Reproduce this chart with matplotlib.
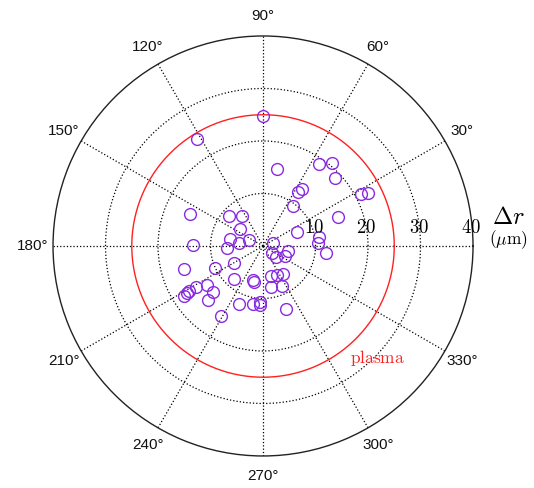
import numpy as np
import matplotlib.pyplot as plt
from matplotlib.transforms import offset_copy

plt.rcParams["mathtext.fontset"] = "cm"

# displacement of each emitter: angle (deg) and radius (um)
theta_deg = [90.1, 121.8, 79.5, 55.8, 50.3, 43.2, 55.8, 57.1, 53.1, 27.9,
             26.8, 21.4, 23.0, 156.3, 178.9, 138.3, 125.4, 144.0, 168.8, 183.7,
             172.1, 156.3, 14.7, -40.0, -41.0, -11.3, -25.5, 2.8, -6.6, 9.4,
             196.2, 204.9, 210.8, 228.7, 254.3, 256.4, -75.6, -64.1, -54.1, -79.3,
             -64.8, 212.3, 211.8, 211.7, 211.6, 214.7, 222.3, 224.6, 239.2, 247.8,
             259.7, 266.9, 267.4, -69.8]
r_um = [24.8, 24.0, 15.0, 18.9, 20.5, 18.8, 13.1, 12.2, 9.6, 21.1,
        22.5, 15.3, 7.0, 15.2, 13.4, 8.6, 7.0, 5.4, 6.5, 6.8,
        4.6, 2.9, 2.0, 2.2, 3.3, 4.9, 4.6, 10.5, 12.1, 10.8,
        15.7, 10.1, 6.4, 8.4, 6.8, 7.1, 5.9, 6.2, 6.6, 7.9,
        8.4, 17.8, 17.0, 16.5, 15.0, 13.0, 12.9, 14.6, 15.5, 11.9,
        11.2, 10.6, 11.2, 12.7]

plasma_r = 25.0
r_max = 40
r_ticks = [10, 20, 30, 40]
theta_ticks = list(range(0, 360, 30))
theta_labels = ["", "30°", "60°", "90°", "120°", "150°", "180°",
                "210°", "240°", "270°", "300°", "330°"]

fig = plt.figure(figsize=(5.34, 4.88), dpi=100)
ax = fig.add_axes([0.0993, 0.0656, 0.7865, 0.8607], projection="polar")

ax.set_ylim(0, r_max)
ax.set_yticks(r_ticks[:-1])
ax.set_yticklabels([])
ax.set_xticks(np.deg2rad(theta_ticks))
ax.set_xticklabels([])
ax.grid(True, color="black", linestyle=":", linewidth=0.9)
ax.spines["polar"].set_color("#222222")
ax.spines["polar"].set_linewidth(1.0)

# plasma boundary
tt = np.linspace(0, 2 * np.pi, 400)
ax.plot(tt, np.full_like(tt, plasma_r), color="#ff2020", lw=1.0)

ax.plot(np.deg2rad(theta_deg), r_um, "o", mfc="none", mec="#8a2be2",
        mew=1.0, ms=8.5, clip_on=False)

# angle labels
for t, lab in zip(theta_ticks, theta_labels):
    if lab:
        ax.text(np.deg2rad(t), 43.8, lab, ha="center", va="center",
                fontsize=11, family="Liberation Sans", color="#111111",
                clip_on=False)

# radial labels
tr = offset_copy(ax.transData, fig=fig, x=-2, y=18, units="dots")
for r in r_ticks:
    ax.text(0, r, "$%d$" % r, transform=tr, ha="center", va="center",
            fontsize=13.5, clip_on=False)

fig.text(508 / 534, 1 - 217 / 488, r"$\mathbf{\Delta} r$", ha="center",
         va="center", fontsize=17.5)
fig.text(508 / 534, 1 - 240 / 488, r"$(\mu\mathrm{m})$", ha="center",
         va="center", fontsize=12.5)

ax.text(np.deg2rad(-44.4), 30.5, r"$\mathrm{plasma}$", color="#ff2020",
        ha="center", va="center", fontsize=12.5)

fig.savefig("out.png", dpi=100)
